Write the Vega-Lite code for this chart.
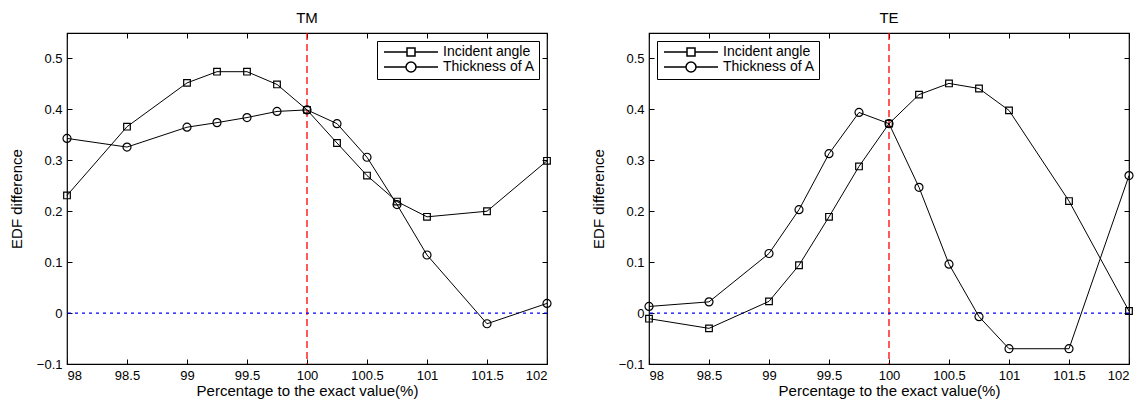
{
  "$schema": "https://vega.github.io/schema/vega-lite/v6.json",
  "background": "white",
  "padding": {"left": 8, "top": 10, "right": 5, "bottom": 2},
  "config": {
    "font": "Liberation Sans",
    "view": {"stroke": "black", "strokeWidth": 1.2},
    "axis": {"grid": false, "domain": false, "tickColor": "black", "tickWidth": 1, "tickSize": -5, "labelPadding": 10, "labelColor": "black", "labelFontSize": 13, "labelFont": "Liberation Sans", "titleColor": "black", "titleFontSize": 15, "titleFontWeight": "normal", "titleFont": "Liberation Sans"},
    "title": {"fontSize": 15, "fontWeight": "normal", "color": "black", "offset": 6, "anchor": "middle", "font": "Liberation Sans"},
    "legend": {"offset": 8, "strokeColor": "black", "fillColor": "white", "padding": 4, "labelFontSize": 14, "labelColor": "black", "labelFont": "Liberation Sans", "symbolOffset": 23, "labelOffset": 25, "rowPadding": 0, "cornerRadius": 0, "symbolOpacity": 1}
  },
  "datasets": {
    "d": [
      {"p": "TM", "s": "Incident angle", "x": 98, "y": 0.231},
      {"p": "TM", "s": "Incident angle", "x": 98.5, "y": 0.366},
      {"p": "TM", "s": "Incident angle", "x": 99, "y": 0.452},
      {"p": "TM", "s": "Incident angle", "x": 99.25, "y": 0.474},
      {"p": "TM", "s": "Incident angle", "x": 99.5, "y": 0.474},
      {"p": "TM", "s": "Incident angle", "x": 99.75, "y": 0.449},
      {"p": "TM", "s": "Incident angle", "x": 100, "y": 0.399},
      {"p": "TM", "s": "Incident angle", "x": 100.25, "y": 0.334},
      {"p": "TM", "s": "Incident angle", "x": 100.5, "y": 0.270},
      {"p": "TM", "s": "Incident angle", "x": 100.75, "y": 0.219},
      {"p": "TM", "s": "Incident angle", "x": 101, "y": 0.189},
      {"p": "TM", "s": "Incident angle", "x": 101.5, "y": 0.200},
      {"p": "TM", "s": "Incident angle", "x": 102, "y": 0.299},
      {"p": "TM", "s": "Thickness of A", "x": 98, "y": 0.343},
      {"p": "TM", "s": "Thickness of A", "x": 98.5, "y": 0.326},
      {"p": "TM", "s": "Thickness of A", "x": 99, "y": 0.365},
      {"p": "TM", "s": "Thickness of A", "x": 99.25, "y": 0.374},
      {"p": "TM", "s": "Thickness of A", "x": 99.5, "y": 0.384},
      {"p": "TM", "s": "Thickness of A", "x": 99.75, "y": 0.396},
      {"p": "TM", "s": "Thickness of A", "x": 100, "y": 0.399},
      {"p": "TM", "s": "Thickness of A", "x": 100.25, "y": 0.372},
      {"p": "TM", "s": "Thickness of A", "x": 100.5, "y": 0.306},
      {"p": "TM", "s": "Thickness of A", "x": 100.75, "y": 0.213},
      {"p": "TM", "s": "Thickness of A", "x": 101, "y": 0.114},
      {"p": "TM", "s": "Thickness of A", "x": 101.5, "y": -0.021},
      {"p": "TM", "s": "Thickness of A", "x": 102, "y": 0.019},
      {"p": "TE", "s": "Incident angle", "x": 98, "y": -0.011},
      {"p": "TE", "s": "Incident angle", "x": 98.5, "y": -0.030},
      {"p": "TE", "s": "Incident angle", "x": 99, "y": 0.023},
      {"p": "TE", "s": "Incident angle", "x": 99.25, "y": 0.094},
      {"p": "TE", "s": "Incident angle", "x": 99.5, "y": 0.189},
      {"p": "TE", "s": "Incident angle", "x": 99.75, "y": 0.288},
      {"p": "TE", "s": "Incident angle", "x": 100, "y": 0.372},
      {"p": "TE", "s": "Incident angle", "x": 100.25, "y": 0.429},
      {"p": "TE", "s": "Incident angle", "x": 100.5, "y": 0.451},
      {"p": "TE", "s": "Incident angle", "x": 100.75, "y": 0.441},
      {"p": "TE", "s": "Incident angle", "x": 101, "y": 0.398},
      {"p": "TE", "s": "Incident angle", "x": 101.5, "y": 0.220},
      {"p": "TE", "s": "Incident angle", "x": 102, "y": 0.004},
      {"p": "TE", "s": "Thickness of A", "x": 98, "y": 0.013},
      {"p": "TE", "s": "Thickness of A", "x": 98.5, "y": 0.022},
      {"p": "TE", "s": "Thickness of A", "x": 99, "y": 0.117},
      {"p": "TE", "s": "Thickness of A", "x": 99.25, "y": 0.203},
      {"p": "TE", "s": "Thickness of A", "x": 99.5, "y": 0.313},
      {"p": "TE", "s": "Thickness of A", "x": 99.75, "y": 0.394},
      {"p": "TE", "s": "Thickness of A", "x": 100, "y": 0.372},
      {"p": "TE", "s": "Thickness of A", "x": 100.25, "y": 0.247},
      {"p": "TE", "s": "Thickness of A", "x": 100.5, "y": 0.096},
      {"p": "TE", "s": "Thickness of A", "x": 100.75, "y": -0.007},
      {"p": "TE", "s": "Thickness of A", "x": 101, "y": -0.070},
      {"p": "TE", "s": "Thickness of A", "x": 101.5, "y": -0.070},
      {"p": "TE", "s": "Thickness of A", "x": 102, "y": 0.270}
    ]
  },
  "bounds": "flush",
  "spacing": 102,
  "resolve": {"scale": {"shape": "independent"}, "legend": {"shape": "independent"}},
  "hconcat": [
    {
      "title": "TM",
      "width": 480,
      "height": 331,
      "resolve": {"axis": {"x": "independent", "y": "independent"}},
      "layer": [
        {
          "data": {"values": [{"v": 100}]},
          "mark": {"type": "rule", "color": "#ff0000", "strokeDash": [7, 4], "strokeWidth": 1.3},
          "encoding": {"x": {"field": "v", "type": "quantitative", "scale": {"domain": [98, 102], "nice": false, "zero": false}, "axis": {"orient": "top", "values": [98, 98.5, 99, 99.5, 100, 100.5, 101, 101.5, 102], "labels": false, "title": null}}}
        },
        {
          "data": {"values": [{"v": 0}]},
          "mark": {"type": "rule", "color": "#0000ff", "strokeDash": [3, 4], "strokeWidth": 1.2},
          "encoding": {"y": {"field": "v", "type": "quantitative", "scale": {"domain": [-0.1, 0.55], "nice": false, "zero": false}, "axis": {"orient": "right", "values": [-0.1, 0, 0.1, 0.2, 0.3, 0.4, 0.5], "labels": false, "title": null}}}
        },
        {
          "data": {"name": "d"},
          "transform": [{"filter": "datum.p == 'TM'"}],
          "mark": {"type": "line", "color": "black", "strokeWidth": 1},
          "encoding": {
            "x": {"field": "x", "type": "quantitative", "scale": {"domain": [98, 102], "nice": false, "zero": false}, "axis": {"orient": "bottom", "values": [98, 98.5, 99, 99.5, 100, 100.5, 101, 101.5, 102], "format": "~g", "title": "Percentage to the exact value(%)", "titlePadding": 1}},
            "y": {"field": "y", "type": "quantitative", "scale": {"domain": [-0.1, 0.55], "nice": false, "zero": false}, "axis": {"orient": "left", "values": [-0.1, 0, 0.1, 0.2, 0.3, 0.4, 0.5], "format": "~g", "title": "EDF difference", "titlePadding": 12}},
            "detail": {"field": "s", "type": "nominal"}
          }
        },
        {
          "data": {"name": "d"},
          "transform": [{"filter": "datum.p == 'TM' && datum.s == 'Incident angle'"}],
          "mark": {"type": "point", "shape": "square", "filled": false, "stroke": "black", "strokeWidth": 1.2, "opacity": 1, "size": 44},
          "encoding": {
            "x": {"field": "x", "type": "quantitative", "scale": {"domain": [98, 102], "nice": false, "zero": false}, "axis": null},
            "y": {"field": "y", "type": "quantitative", "scale": {"domain": [-0.1, 0.55], "nice": false, "zero": false}, "axis": null}
          }
        },
        {
          "data": {"name": "d"},
          "transform": [{"filter": "datum.p == 'TM' && datum.s == 'Thickness of A'"}],
          "mark": {"type": "point", "shape": "circle", "filled": false, "stroke": "black", "strokeWidth": 1.2, "opacity": 1, "size": 64},
          "encoding": {
            "x": {"field": "x", "type": "quantitative", "scale": {"domain": [98, 102], "nice": false, "zero": false}, "axis": null},
            "y": {"field": "y", "type": "quantitative", "scale": {"domain": [-0.1, 0.55], "nice": false, "zero": false}, "axis": null}
          }
        },
        {
          "data": {"name": "d"},
          "transform": [{"filter": "false"}],
          "mark": {"type": "point", "filled": false, "color": "black", "strokeWidth": 1.1, "size": 64},
          "encoding": {
            "x": {"field": "x", "type": "quantitative", "scale": {"domain": [98, 102], "nice": false, "zero": false}, "axis": null},
            "y": {"field": "y", "type": "quantitative", "scale": {"domain": [-0.1, 0.55], "nice": false, "zero": false}, "axis": null},
            "shape": {"field": "s", "type": "nominal", "scale": {"domain": ["Incident angle", "Thickness of A"], "range": ["M-5.4,0H-0.8M0.8,0H5.4M-0.8,-0.8H0.8V0.8H-0.8Z", "M-5.4,0H-1M1,0H5.4M-1,0A1,1,0,1,1,1,0A1,1,0,1,1,-1,0Z"]},
              "legend": {"title": null, "orient": "top-right"}}
          }
        }
      ]
    },
    {
      "title": "TE",
      "width": 480,
      "height": 331,
      "resolve": {"axis": {"x": "independent", "y": "independent"}},
      "layer": [
        {
          "data": {"values": [{"v": 100}]},
          "mark": {"type": "rule", "color": "#ff0000", "strokeDash": [7, 4], "strokeWidth": 1.3},
          "encoding": {"x": {"field": "v", "type": "quantitative", "scale": {"domain": [98, 102], "nice": false, "zero": false}, "axis": {"orient": "top", "values": [98, 98.5, 99, 99.5, 100, 100.5, 101, 101.5, 102], "labels": false, "title": null}}}
        },
        {
          "data": {"values": [{"v": 0}]},
          "mark": {"type": "rule", "color": "#0000ff", "strokeDash": [3, 4], "strokeWidth": 1.2},
          "encoding": {"y": {"field": "v", "type": "quantitative", "scale": {"domain": [-0.1, 0.55], "nice": false, "zero": false}, "axis": {"orient": "right", "values": [-0.1, 0, 0.1, 0.2, 0.3, 0.4, 0.5], "labels": false, "title": null}}}
        },
        {
          "data": {"name": "d"},
          "transform": [{"filter": "datum.p == 'TE'"}],
          "mark": {"type": "line", "color": "black", "strokeWidth": 1},
          "encoding": {
            "x": {"field": "x", "type": "quantitative", "scale": {"domain": [98, 102], "nice": false, "zero": false}, "axis": {"orient": "bottom", "values": [98, 98.5, 99, 99.5, 100, 100.5, 101, 101.5, 102], "format": "~g", "title": "Percentage to the exact value(%)", "titlePadding": 1}},
            "y": {"field": "y", "type": "quantitative", "scale": {"domain": [-0.1, 0.55], "nice": false, "zero": false}, "axis": {"orient": "left", "values": [-0.1, 0, 0.1, 0.2, 0.3, 0.4, 0.5], "format": "~g", "title": "EDF difference", "titlePadding": 12}},
            "detail": {"field": "s", "type": "nominal"}
          }
        },
        {
          "data": {"name": "d"},
          "transform": [{"filter": "datum.p == 'TE' && datum.s == 'Incident angle'"}],
          "mark": {"type": "point", "shape": "square", "filled": false, "stroke": "black", "strokeWidth": 1.2, "opacity": 1, "size": 44},
          "encoding": {
            "x": {"field": "x", "type": "quantitative", "scale": {"domain": [98, 102], "nice": false, "zero": false}, "axis": null},
            "y": {"field": "y", "type": "quantitative", "scale": {"domain": [-0.1, 0.55], "nice": false, "zero": false}, "axis": null}
          }
        },
        {
          "data": {"name": "d"},
          "transform": [{"filter": "datum.p == 'TE' && datum.s == 'Thickness of A'"}],
          "mark": {"type": "point", "shape": "circle", "filled": false, "stroke": "black", "strokeWidth": 1.2, "opacity": 1, "size": 64},
          "encoding": {
            "x": {"field": "x", "type": "quantitative", "scale": {"domain": [98, 102], "nice": false, "zero": false}, "axis": null},
            "y": {"field": "y", "type": "quantitative", "scale": {"domain": [-0.1, 0.55], "nice": false, "zero": false}, "axis": null}
          }
        },
        {
          "data": {"name": "d"},
          "transform": [{"filter": "false"}],
          "mark": {"type": "point", "filled": false, "color": "black", "strokeWidth": 1.1, "size": 64},
          "encoding": {
            "x": {"field": "x", "type": "quantitative", "scale": {"domain": [98, 102], "nice": false, "zero": false}, "axis": null},
            "y": {"field": "y", "type": "quantitative", "scale": {"domain": [-0.1, 0.55], "nice": false, "zero": false}, "axis": null},
            "shape": {"field": "s", "type": "nominal", "scale": {"domain": ["Incident angle", "Thickness of A"], "range": ["M-5.4,0H-0.8M0.8,0H5.4M-0.8,-0.8H0.8V0.8H-0.8Z", "M-5.4,0H-1M1,0H5.4M-1,0A1,1,0,1,1,1,0A1,1,0,1,1,-1,0Z"]},
              "legend": {"title": null, "orient": "top-left"}}
          }
        }
      ]
    }
  ]
}
